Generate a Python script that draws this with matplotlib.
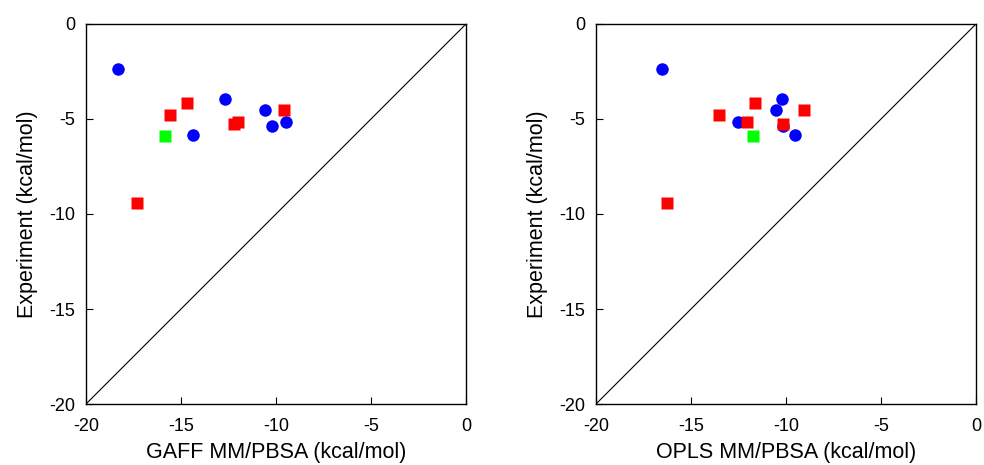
import numpy as np
import matplotlib.pyplot as plt

plt.rcParams['font.family'] = ['Liberation Sans', 'DejaVu Sans']
plt.rcParams['axes.unicode_minus'] = False

# experimental binding free energies (kcal/mol)
exp_blue = [-2.38, -3.93, -4.51, -5.37, -5.16, -5.86]
exp_red = [-4.14, -4.77, -5.25, -5.14, -4.51, -9.40]
exp_green = [-5.88]

# MM/PBSA estimates with the two force fields
gaff_blue = [-18.33, -12.68, -10.56, -10.23, -9.46, -14.39]
gaff_red = [-14.70, -15.60, -12.23, -12.00, -9.60, -17.33]
gaff_green = [-15.86]

opls_blue = [-16.54, -10.23, -10.53, -10.17, -12.51, -9.51]
opls_red = [-11.65, -13.53, -10.17, -12.07, -9.07, -16.26]
opls_green = [-11.75]

panels = [
    (gaff_blue, gaff_red, gaff_green, 'GAFF MM/PBSA (kcal/mol)'),
    (opls_blue, opls_red, opls_green, 'OPLS MM/PBSA (kcal/mol)'),
]

fig = plt.figure(figsize=(9.84, 4.65), dpi=100)
lefts = [86 / 984, 596 / 984]

for left, (xb, xr, xg, xlabel) in zip(lefts, panels):
    ax = fig.add_axes([left, 61 / 465, 380 / 984, 380 / 465])
    ax.plot([-20, 0], [-20, 0], color='black', lw=0.8, zorder=1)
    ax.plot(xb, exp_blue, 'o', color='#0000ff', ms=9, mec='none', zorder=2)
    ax.plot(xr, exp_red, 's', color='#ff0000', ms=9, mec='none', zorder=3)
    ax.plot(xg, exp_green, 's', color='#00ff00', ms=9, mec='none', zorder=4)
    ax.set_xlim(-20, 0)
    ax.set_ylim(-20, 0)
    ax.set_xticks([-20, -15, -10, -5, 0])
    ax.set_yticks([-20, -15, -10, -5, 0])
    ax.tick_params(direction='in', length=5, width=0.8, labelsize=13)
    ax.tick_params(axis='x', pad=10)
    ax.tick_params(axis='y', pad=8)
    for s in ax.spines.values():
        s.set_linewidth(1.0)
    ax.set_xlabel(xlabel, fontsize=15.5, labelpad=5)
    ax.set_ylabel('Experiment (kcal/mol)', fontsize=15.5, labelpad=8)

fig.savefig('out.png', dpi=100)
